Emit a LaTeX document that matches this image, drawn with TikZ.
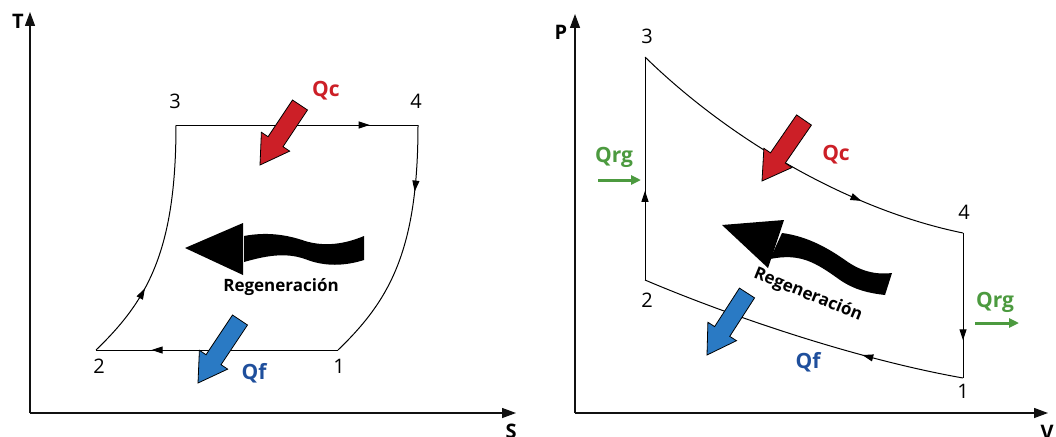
\documentclass[tikz,border=0pt]{standalone}
\usepackage{fontspec}
\setmainfont{Open Sans}
\usetikzlibrary{arrows.meta,calc,decorations.markings}
\definecolor{heatin}{HTML}{CC1F27}
\definecolor{heatout}{HTML}{2A7AC4}
\definecolor{heatoutlbl}{HTML}{1F4F9C}
\definecolor{regen}{HTML}{4C9A3F}
\definecolor{axes}{HTML}{111111}

\tikzset{
  axis/.style={-{Triangle[length=14pt,width=10pt]}, line width=1.3pt, draw=axes},
  process/.style={line width=1pt},
  flow/.style={postaction={decorate}, decoration={markings,
    mark=at position #1 with {\arrow{Triangle[length=11pt,width=7pt]}}}},
  statelbl/.style={font=\fontsize{20}{20}\selectfont},
  axislbl/.style={font=\fontsize{20}{20}\selectfont\bfseries},
  heatlbl/.style={font=\fontsize{21}{21}\selectfont\bfseries},
  regenlbl/.style={font=\fontsize{17}{17}\selectfont\bfseries},
  rgarrow/.style={-{Triangle[length=10pt,width=9pt]}, line width=3pt, draw=regen},
}

% fat heat arrow: colour, tail, tip
\newcommand\heatarrow[3]{%
  \filldraw[fill=#1, draw=black, line width=0.8pt, line join=miter]
    ($(#2)!9pt!90:(#3)$) -- ($(#3)!28pt!(#2)!9pt!90:(#3)$)
    -- ($(#3)!28pt!(#2)!17pt!90:(#3)$) -- (#3)
    -- ($(#3)!28pt!(#2)!17pt!-90:(#3)$) -- ($(#3)!28pt!(#2)!9pt!-90:(#3)$)
    -- ($(#2)!9pt!-90:(#3)$) -- cycle;}

\begin{document}
\begin{tikzpicture}[x=1pt, y=-1pt]
  \useasboundingbox (0,0) rectangle (1056,436);

  %%%% T-S diagram
  % Axes
  \coordinate (tsO) at (30,413);
  \coordinate (tsT) at (30,12);
  \coordinate (tsS) at (516,413);
  \draw[axis] (tsO) -- (tsT);
  \draw[axis] (tsO) -- (tsS);
  \node[axislbl] (lblT) at (18,21) {T};
  \node[axislbl] (lblS) at (511,431) {S};

  % States
  \coordinate (ts1) at (338,350);
  \coordinate (ts2) at (96,350);
  \coordinate (ts3) at (176,125);
  \coordinate (ts4) at (418,125);
  \node[statelbl] (ts1lbl) at (339,366) {1};
  \node[statelbl] (ts2lbl) at (99,366) {2};
  \node[statelbl] (ts3lbl) at (175,101) {3};
  \node[statelbl] (ts4lbl) at (416,101) {4};

  % Cycle
  \draw[process, flow=0.8] (ts3) -- (ts4);
  \draw[process, flow=0.27] (ts4) .. controls (418,250) and (390,300) .. (ts1);
  \draw[process, flow=0.77] (ts1) -- (ts2);
  \draw[process, flow=0.32] (ts2) .. controls (148,300) and (176,250) .. (ts3);

  % Heat in / out
  \coordinate (tsQcTail) at (300,105);
  \coordinate (tsQcTip) at (260,165);
  \heatarrow{heatin}{tsQcTail}{tsQcTip}
  \node[heatlbl, heatin] (tsQc) at (326,91) {Qc};
  \coordinate (tsQfTail) at (240,320);
  \coordinate (tsQfTip) at (198,383);
  \heatarrow{heatout}{tsQfTail}{tsQfTip}
  \node[heatlbl, heatoutlbl] (tsQf) at (254,373) {Qf};

  % Regeneration
  \fill (244,236) .. controls (265,232) and (285,234) .. (305,241)
    .. controls (325,247) and (345,244) .. (364,236) -- (364,260)
    .. controls (345,266) and (325,267) .. (305,259)
    .. controls (285,252) and (265,256) .. (244,262) -- cycle;
  \fill (243,223) -- (185,248) -- (243,275) -- cycle;
  \node[regenlbl] (tsRegen) at (281,287) {Regeneración};

  %%%% P-V diagram
  % Axes
  \coordinate (pvO) at (575,413);
  \coordinate (pvP) at (575,14);
  \coordinate (pvV) at (1048,413);
  \draw[axis] (pvO) -- (pvP);
  \draw[axis] (pvO) -- (pvV);
  \node[axislbl] (lblP) at (561,32) {P};
  \node[axislbl] (lblV) at (1047,432) {V};

  % States
  \coordinate (pv1) at (963,378);
  \coordinate (pv2) at (645,280);
  \coordinate (pv3) at (645,57);
  \coordinate (pv4) at (963,233);
  \node[statelbl] (pv1lbl) at (963,391) {1};
  \node[statelbl] (pv2lbl) at (647,300) {2};
  \node[statelbl] (pv3lbl) at (647,36) {3};
  \node[statelbl] (pv4lbl) at (964,212) {4};

  % Cycle
  \draw[process, flow=0.71] (pv3) .. controls (730,140) and (850,210) .. (pv4);
  \draw[process, flow=0.74] (pv4) -- (pv1);
  \draw[process, flow=0.31] (pv1) .. controls (850,358) and (720,312) .. (pv2);
  \draw[process, flow=0.40] (pv2) -- (pv3);

  % Heat in / out
  \coordinate (pvQcTail) at (804,120);
  \coordinate (pvQcTip) at (762,181);
  \heatarrow{heatin}{pvQcTail}{pvQcTip}
  \node[heatlbl, heatin] (pvQc) at (836,155) {Qc};
  \coordinate (pvQfTail) at (747,293);
  \coordinate (pvQfTip) at (707,355);
  \heatarrow{heatout}{pvQfTail}{pvQfTip}
  \node[heatlbl, heatoutlbl] (pvQf) at (808,362) {Qf};

  % Regenerator heat
  \node[heatlbl, regen] (pvQrgIn) at (614,157) {Qrg};
  \coordinate (pvQrgInA) at (598,180);
  \coordinate (pvQrgInB) at (641,180);
  \draw[rgarrow] (pvQrgInA) -- (pvQrgInB);
  \node[heatlbl, regen] (pvQrgOut) at (995,302) {Qrg};
  \coordinate (pvQrgOutA) at (975,323);
  \coordinate (pvQrgOutB) at (1019,323);
  \draw[rgarrow] (pvQrgOutA) -- (pvQrgOutB);

  % Regeneration
  \fill (782,233) .. controls (805,236) and (825,246) .. (845,260)
    .. controls (860,271) and (875,275) .. (892,273) -- (885,295)
    .. controls (868,293) and (855,290) .. (840,280)
    .. controls (815,262) and (800,253) .. (770,259) -- cycle;
  \fill (784,220) -- (722,225) -- (768,268) -- cycle;
  \node[regenlbl, rotate=-22] (pvRegen) at (808,295) {Regeneración};
\end{tikzpicture}
\end{document}
